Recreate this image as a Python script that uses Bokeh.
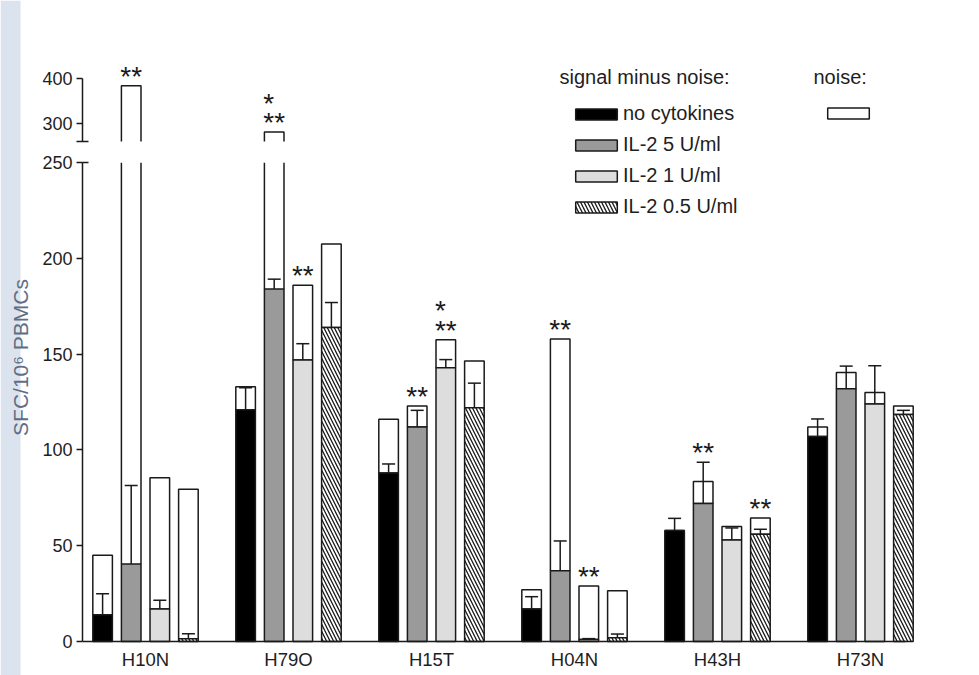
import math
import numpy as np
from bokeh.plotting import figure
from bokeh.models import (Range1d, LinearAxis, FixedTicker, ColumnDataSource, Whisker, TeeHead,
                          Legend, LegendItem, Label, BoxAnnotation)
from bokeh.core.properties import value
from bokeh.embed import file_html
from bokeh.resources import INLINE

# ---------------- data ----------------
categories = ["H10N", "H79O", "H15T", "H04N", "H43H", "H73N"]
conditions = ["no cytokines", "IL-2 5 U/ml", "IL-2 1 U/ml", "IL-2 0.5 U/ml"]

# signal minus noise (SFC / 10^6 PBMCs)
no_cyto_signal = [14, 121, 88, 17, 58, 107]
il2_5_signal = [40.5, 184, 112, 37, 72, 132]
il2_1_signal = [17, 147, 143, 1, 53, 124]
il2_05_signal = [1.5, 164, 122, 2, 56, 118.5]

# total height (signal + noise)
no_cyto_total = [45, 133, 116, 27, 58, 112]
il2_5_total = [385, 282, 123, 158, 83.5, 140.5]
il2_1_total = [85.5, 186, 157.5, 29, 60, 130]
il2_05_total = [79.5, 207.5, 146.5, 26.5, 64.5, 123]

# error (upper whisker above signal)
no_cyto_err = [11, 11.5, 4.7, 6.4, 6.3, 9.2]
il2_5_err = [41, 5.2, 8.7, 15.5, 21.6, 11.8]
il2_1_err = [4.5, 8.5, 4.2, 0.5, 6.3, 20]
il2_05_err = [2.6, 13, 12.9, 1.9, 2.6, 2.2]

# significance marks: group, condition index, row (0 = lowest), text
sig_group = ["H10N", "H79O", "H79O", "H79O", "H15T", "H15T", "H15T", "H04N", "H04N", "H43H", "H43H"]
sig_cond = [1, 1, 1, 2, 1, 2, 2, 1, 2, 1, 3]
sig_row = [0, 0, 1, 0, 0, 0, 1, 0, 0, 0, 0]
sig_text = ["**", "**", "*", "**", "**", "**", "*", "**", "**", "**", "**"]

lower_ticks = [0, 50, 100, 150, 200, 250]
upper_ticks = [300, 400]
BREAK_LOW, BREAK_HIGH = 250, 261

signals = [no_cyto_signal, il2_5_signal, il2_1_signal, il2_05_signal]
totals = [no_cyto_total, il2_5_total, il2_1_total, il2_05_total]
errors = [no_cyto_err, il2_5_err, il2_1_err, il2_05_err]

# ---------------- style / layout ----------------
FONT = "Liberation Sans"
INK = "#1a1a1a"
TXT = "#1e1e1e"
fill_colors = ["#000000", "#9a9a9a", "#dddddd", "#ffffff"]
hatches = [None, None, None, "\\"]
offsets = [-0.3, -0.1, 0.1, 0.3]
BAR_W = 0.137
LW = 1.5
X_START, X_END = -0.4406, 5.3147          # extent of the x axis line

W, H = 979, 675
p = figure(width=W, height=H, min_border=0,
           x_range=Range1d(-1.0140, 5.8322), y_range=Range1d(-17.75, 334.7),
           x_axis_location=None, y_axis_location=None,
           output_backend="svg", toolbar_location=None)
p.extra_y_ranges = {"upper": Range1d(-925.7, 574.3)}
p.outline_line_color = None
p.grid.visible = False
p.background_fill_color = "white"
p.border_fill_color = "white"

# light strip on the left edge
p.add_layout(BoxAnnotation(right=-0.8741, fill_color="#dbe3ee", fill_alpha=1,
                           line_color=None, level="underlay"))

group_x = np.arange(len(categories), dtype=float)
sig_renderers = []
noise_renderer = None
for c in range(len(conditions)):
    x = group_x + offsets[c]
    sig = np.array(signals[c], dtype=float)
    tot = np.array(totals[c], dtype=float)
    err = np.array(errors[c], dtype=float)
    clipped = tot > BREAK_LOW

    # noise boxes (not broken)
    nsrc = ColumnDataSource(dict(x=x[~clipped], bottom=sig[~clipped], top=tot[~clipped]))
    r = p.vbar(x="x", bottom="bottom", top="top", width=BAR_W, source=nsrc,
               fill_color="white", line_color=INK, line_width=LW)
    if noise_renderer is None:
        noise_renderer = r

    if clipped.any():
        xc = x[clipped]
        sc = sig[clipped]
        tc = tot[clipped]
        # lower piece, open at the break
        sides = ColumnDataSource(dict(
            x0=np.concatenate([xc - BAR_W / 2, xc + BAR_W / 2]),
            y0=np.concatenate([sc, sc]),
            y1=np.full(2 * len(xc), BREAK_LOW)))
        p.segment(x0="x0", y0="y0", x1="x0", y1="y1", source=sides, line_color=INK, line_width=LW)
        # upper piece, open at the break
        xs = [[xi - BAR_W / 2, xi - BAR_W / 2, xi + BAR_W / 2, xi + BAR_W / 2] for xi in xc]
        ys = [[BREAK_HIGH, ti, ti, BREAK_HIGH] for ti in tc]
        p.multi_line(xs="xs", ys="ys", source=ColumnDataSource(dict(xs=xs, ys=ys)),
                     line_color=INK, line_width=LW, y_range_name="upper")

    # signal bars
    ssrc = ColumnDataSource(dict(x=x, top=sig))
    kw = dict(fill_color=fill_colors[c], line_color=INK, line_width=LW)
    if hatches[c]:
        kw.update(hatch_pattern=hatches[c], hatch_color=INK, hatch_scale=7, hatch_weight=1.3)
    sr = p.vbar(x="x", bottom=0, top="top", width=BAR_W, source=ssrc, **kw)
    sig_renderers.append(sr)

    # error bars (upper only)
    esrc = ColumnDataSource(dict(x=x, lower=sig, upper=sig + err))
    p.add_layout(Whisker(base="x", lower="lower", upper="upper", dimension="height", source=esrc,
                         upper_head=TeeHead(size=13, line_color=INK, line_width=LW),
                         lower_head=None, line_color=INK, line_width=LW, level="overlay"))

# significance asterisks
STAR_BASE_OFF = -9.5
STAR_ROW_GAP = 19.5
low = dict(x=[], y=[], text=[], yoff=[])
up = dict(x=[], y=[], text=[], yoff=[])
for g, c, row, t in zip(sig_group, sig_cond, sig_row, sig_text):
    gi = categories.index(g)
    anchor = max(totals[c][gi], signals[c][gi] + errors[c][gi])
    d = up if anchor > BREAK_LOW else low
    d["x"].append(gi + offsets[c])
    d["y"].append(anchor)
    d["text"].append(t)
    d["yoff"].append(STAR_BASE_OFF - row * STAR_ROW_GAP)
for d, rng in ((low, "default"), (up, "upper")):
    p.text(x="x", y="y", text="text", y_offset="yoff", x_offset=-10.9,
           source=ColumnDataSource(d), y_range_name=rng,
           text_font=value(FONT), text_font_size="28px", text_color=INK,
           text_align="left", text_baseline="alphabetic")

# ---------------- axes ----------------
def style_axis(ax):
    ax.axis_line_color = INK
    ax.axis_line_width = LW
    ax.major_tick_line_color = INK
    ax.major_tick_line_width = LW
    ax.minor_tick_line_color = INK
    ax.minor_tick_line_width = LW
    ax.major_label_text_font = FONT
    ax.major_label_text_font_size = "18px"
    ax.major_label_text_color = TXT

xa = LinearAxis(ticker=FixedTicker(ticks=list(range(len(categories)))),
                bounds=(X_START, X_END), fixed_location=0)
style_axis(xa)
xa.major_label_overrides = {i: n for i, n in enumerate(categories)}
xa.major_tick_line_color = None
xa.minor_tick_line_color = None
xa.major_label_text_font_size = "18.5px"
xa.major_label_standoff = 1
p.add_layout(xa, "below")

ya = LinearAxis(ticker=FixedTicker(ticks=lower_ticks, minor_ticks=[BREAK_LOW]),
                bounds=(0, BREAK_LOW), fixed_location=X_START)
style_axis(ya)
ya.major_tick_out = 6
ya.major_tick_in = 0
ya.minor_tick_in = 6
ya.minor_tick_out = 0
ya.major_label_standoff = 4
p.add_layout(ya, "left")

ua = LinearAxis(y_range_name="upper", ticker=FixedTicker(ticks=upper_ticks, minor_ticks=[BREAK_HIGH]),
                bounds=(BREAK_HIGH, max(upper_ticks)), fixed_location=X_START)
style_axis(ua)
ua.major_tick_out = 6
ua.major_tick_in = 0
ua.minor_tick_in = 6
ua.minor_tick_out = 6
ua.major_label_standoff = 4
p.add_layout(ua, "left")

# y axis title
p.add_layout(Label(x=-0.8776, y=148.3, text="SFC/10⁶ PBMCs", angle=math.pi / 2,
                   text_font=FONT, text_font_size="21px", text_color="#5f6e85",
                   text_align="center", text_baseline="middle"))

# ---------------- legend ----------------
legend = Legend(items=[LegendItem(label=conditions[c], renderers=[sig_renderers[c]])
                       for c in range(len(conditions))],
                location=(570, 457), glyph_width=52, glyph_height=14, label_height=21,
                spacing=8, padding=0, margin=0, label_standoff=1,
                label_text_font=FONT, label_text_font_size="20px", label_text_color=TXT,
                border_line_color=None, background_fill_alpha=0)
p.add_layout(legend)
noise_legend = Legend(items=[LegendItem(label=" ", renderers=[noise_renderer])],
                      location=(822, 552), glyph_width=52, glyph_height=14, label_height=21,
                      padding=0, margin=0, label_standoff=0,
                      label_text_font=FONT, label_text_font_size="20px",
                      border_line_color=None, background_fill_alpha=0)
p.add_layout(noise_legend)

p.add_layout(Label(x=2.895, y=294.5, text="signal minus noise:", text_font=FONT,
                   text_font_size="20px", text_color=TXT, text_baseline="middle", text_align="left"))
p.add_layout(Label(x=4.671, y=294.5, text="noise:", text_font=FONT,
                   text_font_size="20px", text_color=TXT, text_baseline="middle", text_align="left"))

open("out.html", "w").write(file_html(p, INLINE))
